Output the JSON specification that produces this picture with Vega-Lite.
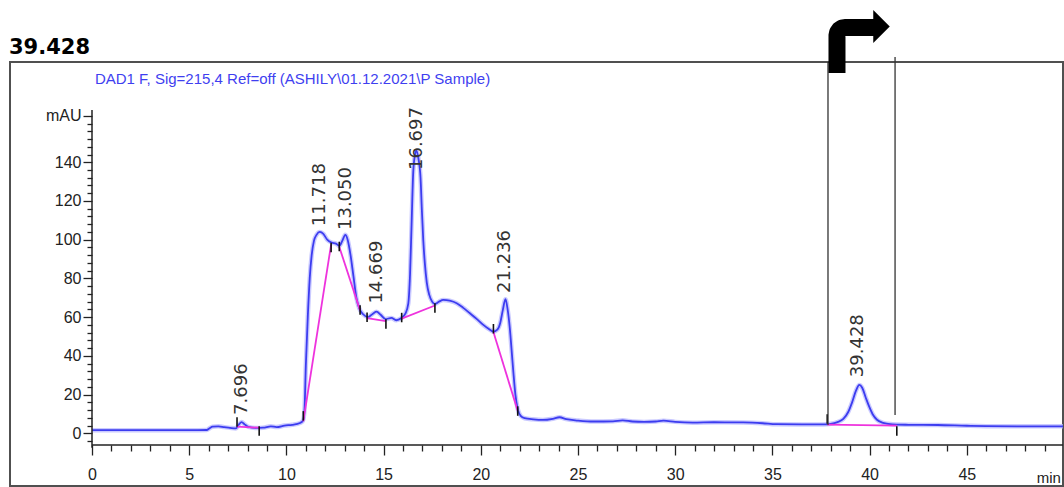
{
  "$schema": "https://vega.github.io/schema/vega-lite/v6.json",
  "width": 1053,
  "height": 424,
  "autosize": {"type": "none"},
  "padding": {"left": 10, "top": 62, "right": 1, "bottom": 1},
  "background": "white",
  "config": {
    "view": {"stroke": "#505050", "strokeWidth": 2},
    "axis": {"labelFont": "Liberation Sans", "labelOverlap": false}
  },
  "resolve": {"axis": {"x": "independent", "y": "independent"}},
  "layer": [
    {
      "data": {"name": "trace", "values": [
        {"t":0,"v":1.6},{"t":1,"v":1.6},{"t":2,"v":1.6},{"t":3,"v":1.6},{"t":4,"v":1.6},{"t":5,"v":1.6},
        {"t":5.9,"v":1.7},{"t":6.05,"v":2.6},{"t":6.2,"v":3.4},{"t":6.5,"v":3.6},{"t":6.8,"v":3.2},{"t":7.1,"v":2.8},
        {"t":7.4,"v":2.5},{"t":7.55,"v":4.5},{"t":7.7,"v":5.8},{"t":7.85,"v":4.6},{"t":8.05,"v":3.3},{"t":8.4,"v":2.8},
        {"t":8.8,"v":2.9},{"t":9.2,"v":3.6},{"t":9.5,"v":3.2},{"t":9.9,"v":4.0},{"t":10.3,"v":4.4},{"t":10.7,"v":5.3},
        {"t":10.85,"v":6.5},{"t":10.93,"v":12},{"t":11.0,"v":35},{"t":11.1,"v":60},{"t":11.2,"v":80},{"t":11.3,"v":92},
        {"t":11.42,"v":99.5},{"t":11.55,"v":102.5},{"t":11.72,"v":104},{"t":11.9,"v":103},{"t":12.1,"v":100},
        {"t":12.33,"v":98.5},{"t":12.55,"v":98},{"t":12.72,"v":96.8},{"t":12.88,"v":99.5},{"t":13.03,"v":102.5},
        {"t":13.15,"v":100},{"t":13.3,"v":92},{"t":13.45,"v":81},{"t":13.6,"v":70},{"t":13.75,"v":64.5},
        {"t":13.95,"v":61.5},{"t":14.2,"v":60},{"t":14.45,"v":61.8},{"t":14.64,"v":62.8},{"t":14.85,"v":61.2},
        {"t":15.1,"v":59},{"t":15.4,"v":59.6},{"t":15.65,"v":58.4},{"t":15.9,"v":59.4},{"t":16.12,"v":61.8},
        {"t":16.27,"v":67},{"t":16.36,"v":82},{"t":16.44,"v":108},{"t":16.52,"v":134},{"t":16.6,"v":143},
        {"t":16.69,"v":146},{"t":16.79,"v":142},{"t":16.9,"v":132},{"t":16.97,"v":115},{"t":17.04,"v":100},
        {"t":17.12,"v":88},{"t":17.22,"v":78},{"t":17.35,"v":71.5},{"t":17.5,"v":68},{"t":17.64,"v":66.8},
        {"t":17.85,"v":68},{"t":18.07,"v":68.9},{"t":18.4,"v":68.5},{"t":18.76,"v":67.2},{"t":19.1,"v":64.8},
        {"t":19.44,"v":62},{"t":19.8,"v":59},{"t":20.13,"v":56},{"t":20.4,"v":54},{"t":20.65,"v":52.5},
        {"t":20.85,"v":53.5},{"t":21.0,"v":57},{"t":21.13,"v":63.5},{"t":21.27,"v":69.3},{"t":21.38,"v":64},
        {"t":21.5,"v":53.5},{"t":21.6,"v":41},{"t":21.68,"v":31},{"t":21.78,"v":20},{"t":21.9,"v":12.5},
        {"t":22.05,"v":9},{"t":22.25,"v":7.8},{"t":22.7,"v":7.2},{"t":23.2,"v":6.9},{"t":23.7,"v":7.5},
        {"t":24.05,"v":8.3},{"t":24.4,"v":7.3},{"t":25.0,"v":6.6},{"t":25.8,"v":6.1},{"t":26.8,"v":6.2},
        {"t":27.3,"v":6.7},{"t":27.8,"v":6.1},{"t":28.4,"v":5.9},{"t":29.0,"v":6.1},{"t":29.4,"v":6.5},
        {"t":30.0,"v":5.9},{"t":30.9,"v":5.5},{"t":32.0,"v":5.7},{"t":33.5,"v":5.6},{"t":34.5,"v":5.2},
        {"t":35.2,"v":4.7},{"t":36.5,"v":4.6},{"t":37.6,"v":4.6},{"t":38.0,"v":4.9},{"t":38.35,"v":5.8},
        {"t":38.65,"v":7.4},{"t":38.9,"v":11},{"t":39.1,"v":16},{"t":39.3,"v":22},{"t":39.47,"v":25},
        {"t":39.62,"v":23.5},{"t":39.8,"v":18.5},{"t":39.97,"v":14},{"t":40.15,"v":10},{"t":40.38,"v":7.0},
        {"t":40.65,"v":5.5},{"t":40.95,"v":4.9},{"t":41.4,"v":4.5},{"t":42.0,"v":4.4},{"t":43.5,"v":4.3},
        {"t":45.0,"v":3.9},{"t":46.0,"v":3.7},{"t":47.7,"v":3.6},{"t":49.95,"v":3.6}
      ]},
      "mark": {"type": "line", "interpolate": "monotone", "color": "#b8b8ff", "strokeWidth": 4.5, "opacity": 0.75},
      "encoding": {
        "x": {
          "field": "t", "type": "quantitative", "title": null,
          "scale": {"domain": [-4.218, 49.949], "nice": false, "zero": false},
          "axis": {
            "orient": "bottom", "offset": -41, "domain": false, "grid": false, "title": null,
            "values": [0,5,10,15,20,25,30,35,40,45],
            "tickSize": 10, "tickColor": "#222222", "tickWidth": 1.3,
            "labelFontSize": 16, "labelColor": "#222222", "labelPadding": 11,
            "labelFlush": false, "labelOverlap": false
          }
        },
        "y": {
          "field": "v", "type": "quantitative", "title": null,
          "scale": {"domain": [-27.22, 191.79], "nice": false, "zero": false},
          "axis": {
            "orient": "left", "offset": -82, "domain": false, "grid": false, "title": null,
            "values": [0,20,40,60,80,100,120,140,164],
            "tickSize": 9, "tickColor": "#222222", "tickWidth": 1.3,
            "labelExpr": "datum.value === 164 ? 'mAU' : datum.label",
            "labelFontSize": 16, "labelColor": "#222222", "labelPadding": 2,
            "labelFlush": false, "labelOverlap": false
          }
        }
      }
    },
    {
      "data": {"name": "trace"},
      "mark": {"type": "line", "interpolate": "monotone", "color": "#3c3cf0", "strokeWidth": 1.8},
      "encoding": {
        "x": {
          "field": "t", "type": "quantitative", "title": null,
          "axis": {
            "orient": "bottom", "offset": -41, "domain": false, "grid": false, "title": null, "labels": false,
            "values": [1,2,3,4,6,7,8,9,11,12,13,14,16,17,18,19,21,22,23,24,26,27,28,29,31,32,33,34,36,37,38,39,41,42,43,44,46,47,48,49],
            "tickSize": 6, "tickColor": "#222222", "tickWidth": 1.3
          }
        },
        "y": {
          "field": "v", "type": "quantitative", "title": null,
          "axis": {
            "orient": "left", "offset": -82, "domain": false, "grid": false, "title": null, "labels": false,
            "values": [-4,4,8,12,16,24,28,32,36,44,48,52,56,64,68,72,76,84,88,92,96,104,108,112,116,124,128,132,136,144,148,152,156,160],
            "tickSize": 5, "tickColor": "#222222", "tickWidth": 1.3
          }
        }
      }
    },
    {
      "data": {"values": [
        {"peak":"7.696","t":7.46,"v":3.4},{"peak":"7.696","t":8.6,"v":2.9},
        {"peak":"11.718","t":10.87,"v":6.2},{"peak":"11.718","t":12.3,"v":97.5},
        {"peak":"13.050","t":12.72,"v":96.3},{"peak":"13.050","t":13.79,"v":63.5},
        {"peak":"14.669","t":14.15,"v":59.5},{"peak":"14.669","t":15.12,"v":58.0},
        {"peak":"16.697","t":15.93,"v":59.2},{"peak":"16.697","t":17.64,"v":66.0},
        {"peak":"21.236","t":20.65,"v":52.3},{"peak":"21.236","t":21.9,"v":11.5},
        {"peak":"39.428","t":37.82,"v":4.5},{"peak":"39.428","t":41.4,"v":4.0}
      ]},
      "mark": {"type": "line", "color": "#ee33dd", "strokeWidth": 1.8},
      "encoding": {
        "x": {"field": "t", "type": "quantitative", "axis": null},
        "y": {"field": "v", "type": "quantitative", "axis": null},
        "detail": {"field": "peak", "type": "nominal"}
      }
    },
    {
      "data": {"values": [
        {"t":7.46,"v":5.8},{"t":8.6,"v":1.2},{"t":10.87,"v":9},{"t":12.3,"v":96},{"t":12.72,"v":96.5},
        {"t":13.79,"v":63.7},{"t":14.15,"v":60},{"t":15.12,"v":56.5},{"t":15.93,"v":59.8},{"t":17.64,"v":64.7},
        {"t":20.65,"v":54},{"t":21.9,"v":11.5},{"t":37.82,"v":7.4},{"t":41.4,"v":1.2}
      ]},
      "mark": {"type": "point", "shape": "M0,-1L0,1", "size": 90, "filled": false, "stroke": "#111111", "strokeWidth": 1.6, "opacity": 1},
      "encoding": {
        "x": {"field": "t", "type": "quantitative", "axis": null},
        "y": {"field": "v", "type": "quantitative", "axis": null}
      }
    },
    {
      "data": {"values": [
        {"label":"7.696","rt":7.696,"at":9.5},
        {"label":"11.718","rt":11.718,"at":107},
        {"label":"13.050","rt":13.05,"at":105},
        {"label":"14.669","rt":14.669,"at":67},
        {"label":"16.697","rt":16.697,"at":136},
        {"label":"21.236","rt":21.236,"at":72.5},
        {"label":"39.428","rt":39.428,"at":29}
      ]},
      "mark": {"type": "text", "angle": 270, "align": "left", "baseline": "middle", "font": "DejaVu Sans", "fontSize": 18, "color": "#333333"},
      "encoding": {
        "x": {"field": "rt", "type": "quantitative", "axis": null},
        "y": {"field": "at", "type": "quantitative", "axis": null},
        "text": {"field": "label", "type": "nominal"}
      }
    },
    {
      "data": {"values": [{}]},
      "mark": {"type": "rule", "color": "#222222", "strokeWidth": 1.5},
      "encoding": {
        "x": {"datum": 0, "axis": null}, "x2": {"datum": 49.949},
        "y": {"datum": -6.04, "axis": null}
      }
    },
    {
      "data": {"values": [{}]},
      "mark": {"type": "rule", "color": "#222222", "strokeWidth": 1.5},
      "encoding": {
        "x": {"datum": 0, "axis": null},
        "y": {"datum": -7.5, "axis": null}, "y2": {"datum": 167}
      }
    },
    {
      "data": {"values": [
        {"t":37.86,"from":4.3,"to":191.8},
        {"t":41.31,"from":9.45,"to":194.4}
      ]},
      "mark": {"type": "rule", "color": "#333333", "strokeWidth": 1.3},
      "encoding": {
        "x": {"field": "t", "type": "quantitative", "axis": null},
        "y": {"field": "from", "type": "quantitative", "axis": null},
        "y2": {"field": "to"}
      }
    },
    {
      "data": {"values": [
        {"i":0,"ax":38.323,"ay":186.1},
        {"i":1,"ax":38.323,"ay":205.47},
        {"i":2,"ax":38.355,"ay":207.05},
        {"i":3,"ax":38.443,"ay":208.4},
        {"i":4,"ax":38.577,"ay":209.29},
        {"i":5,"ax":38.735,"ay":209.61},
        {"i":6,"ax":40.226,"ay":209.61}
      ]},
      "mark": {"type": "line", "color": "#000000", "strokeWidth": 17, "strokeJoin": "round", "strokeCap": "butt"},
      "encoding": {
        "x": {"field": "ax", "type": "quantitative", "axis": null},
        "y": {"field": "ay", "type": "quantitative", "axis": null},
        "order": {"field": "i", "type": "quantitative"}
      }
    },
    {
      "data": {"values": [{}]},
      "mark": {"type": "point", "shape": "M-0.5,-1L0.5,0L-0.5,1Z", "size": 1089, "filled": true, "color": "#000000", "opacity": 1},
      "encoding": {
        "x": {"datum": 40.612, "axis": null},
        "y": {"datum": 210.12, "axis": null}
      }
    },
    {
      "data": {"values": [{}]},
      "mark": {"type": "text", "align": "left", "baseline": "alphabetic", "font": "Liberation Sans", "fontSize": 15, "color": "#3f3ff0"},
      "encoding": {
        "x": {"datum": 0.15, "axis": null},
        "y": {"datum": 180.3, "axis": null},
        "text": {"value": "DAD1 F, Sig=215,4 Ref=off (ASHILY\\01.12.2021\\P Sample)"}
      }
    },
    {
      "data": {"values": [{}]},
      "mark": {"type": "text", "align": "left", "baseline": "alphabetic", "font": "DejaVu Sans", "fontWeight": "bold", "fontSize": 21, "color": "#000000"},
      "encoding": {
        "x": {"datum": -4.27, "axis": null},
        "y": {"datum": 195.9, "axis": null},
        "text": {"value": "39.428"}
      }
    },
    {
      "data": {"values": [{}]},
      "mark": {"type": "text", "align": "left", "baseline": "alphabetic", "font": "Liberation Sans", "fontSize": 15, "color": "#222222"},
      "encoding": {
        "x": {"datum": 48.6, "axis": null},
        "y": {"datum": -25.5, "axis": null},
        "text": {"value": "min"}
      }
    }
  ]
}
